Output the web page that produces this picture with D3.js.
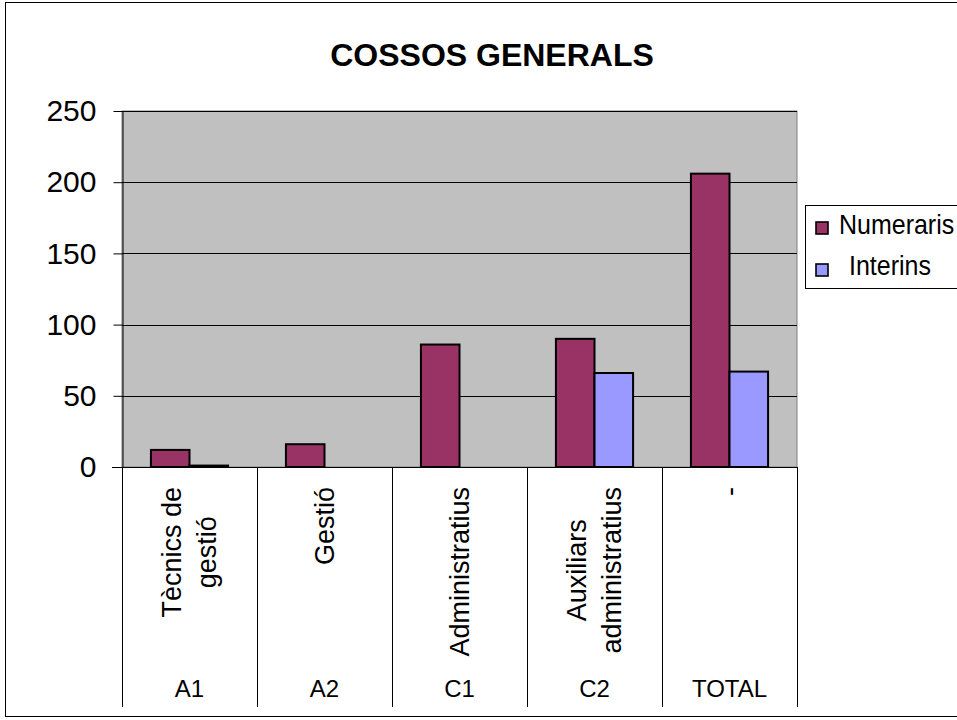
<!DOCTYPE html>
<html><head><meta charset="utf-8">
<script src="https://cdn.jsdelivr.net/npm/d3@7/dist/d3.min.js"></script>
<style>body{margin:0;background:#fff}svg{display:block;font-family:Arial,"Liberation Sans",sans-serif}</style>
</head><body>
<svg id="c" width="957" height="720"></svg>
<script>
const groups = ["A1","A2","C1","C2","TOTAL"];
const subLabels = [["Tècnics de","gestió"],["Gestió"],["Administratius"],["Auxiliars","administratius"],["-"]];
const seriesNames = ["Numeraris","Interins"];
const numeraris = [12,16,86,90,206];
const interins = [1,0,0,66,67];
const yTicks = [0,50,100,150,200,250];
const colors = ["#993366","#9999FF"];

const svg = d3.select("#c");
const L=122,R=797,T=111,B=467;

svg.append("rect").attr("x",5.5).attr("y",2.5).attr("width",960).attr("height",714)
  .attr("fill","#fff").attr("stroke","#000").attr("stroke-width",1);

svg.append("text").attr("x",492).attr("y",66).attr("text-anchor","middle")
  .attr("font-size",32).attr("font-weight","bold").text("COSSOS GENERALS");

const x0 = d3.scaleBand().domain(groups).range([L,R]).paddingInner(0).paddingOuter(0);
const x1 = d3.scaleBand().domain(seriesNames).range([0,x0.bandwidth()]).paddingInner(0).paddingOuter(0.75);
const y = d3.scaleLinear().domain([0,250]).range([B,T]);

svg.append("rect").attr("x",L).attr("y",T).attr("width",R-L).attr("height",B-T)
  .attr("fill","#C0C0C0").attr("stroke","#808080").attr("stroke-width",1);

svg.append("g").selectAll("line").data(yTicks.filter(d=>d>0)).join("line")
  .attr("x1",L).attr("x2",R).attr("y1",d=>Math.round(y(d))+0.5).attr("y2",d=>Math.round(y(d))+0.5)
  .attr("stroke","#000").attr("stroke-width",1);

// y axis
const ya = svg.append("g").attr("transform",`translate(${L+0.5},0)`)
  .call(d3.axisLeft(y).tickValues(yTicks).tickSize(9).tickPadding(17).tickSizeOuter(0));
ya.select(".domain").attr("stroke","#000");
ya.selectAll("line").attr("stroke","#000");
ya.selectAll("text").attr("font-size",30).attr("font-family","Arial,'Liberation Sans',sans-serif").attr("fill","#000");

// bars
const data = groups.map((g,i)=>({g, vals:[numeraris[i],interins[i]]}));
const gg = svg.append("g").selectAll("g").data(data).join("g")
  .attr("transform",d=>`translate(${x0(d.g)},0)`);
gg.selectAll("rect").data(d=>d.vals.map((v,j)=>({v,s:seriesNames[j],j})).filter(e=>e.v>0)).join("rect")
  .attr("x",e=>x1(e.s)).attr("width",x1.bandwidth())
  .attr("y",e=>y(e.v)).attr("height",e=>B-y(e.v))
  .attr("fill",e=>colors[e.j]).attr("stroke","#000").attr("stroke-width",2);

// x axis line
svg.append("line").attr("x1",L-10).attr("x2",R).attr("y1",B+0.5).attr("y2",B+0.5).attr("stroke","#000");
// separators
const bounds = groups.map(g=>x0(g)).concat([R]);
svg.append("g").selectAll("line").data(bounds).join("line")
  .attr("x1",d=>Math.round(d)+0.5).attr("x2",d=>Math.round(d)+0.5).attr("y1",B).attr("y2",707)
  .attr("stroke","#000").attr("stroke-width",1);

// sub labels rotated
const topY = 487, lineGap = 35;
subLabels.forEach((lines,i)=>{
  const cx = x0(groups[i]) + x0.bandwidth()/2;
  const n = lines.length;
  const texts = lines.map((t,k)=>{
    const xx = cx + (k-(n-1)/2)*lineGap + 9;
    return svg.append("text").attr("font-size",27).attr("text-anchor","end")
      .attr("transform",`translate(${xx},${topY}) rotate(-90)`).text(t);
  });
  const lens = texts.map(t=>t.node().getComputedTextLength());
  const mx = d3.max(lens);
  texts.forEach((t,k)=>{
    const xx = cx + (k-(n-1)/2)*lineGap + 9;
    t.attr("transform",`translate(${xx},${topY + (mx-lens[k])/2}) rotate(-90)`);
  });
});

// group labels
svg.append("g").selectAll("text").data(groups).join("text")
  .attr("x",d=>x0(d)+x0.bandwidth()/2).attr("y",697).attr("text-anchor","middle")
  .attr("font-size",24).text(d=>d);

// legend
const lg = svg.append("g");
lg.append("rect").attr("x",805.5).attr("y",205.5).attr("width",170).attr("height",83)
  .attr("fill","#fff").attr("stroke","#000");
const legY = [221, 263], legBase = [234, 275], legX = [839, 849];
seriesNames.forEach((s,j)=>{
  lg.append("rect").attr("x",816).attr("y",legY[j]+1).attr("width",12).attr("height",12)
    .attr("fill",colors[j]).attr("stroke","#000").attr("stroke-width",1.6);
  lg.append("text").attr("transform",`translate(${legX[j]},${legBase[j]}) scale(1,1.1)`)
    .attr("font-size",25).text(s);
});
</script>
</body></html>
